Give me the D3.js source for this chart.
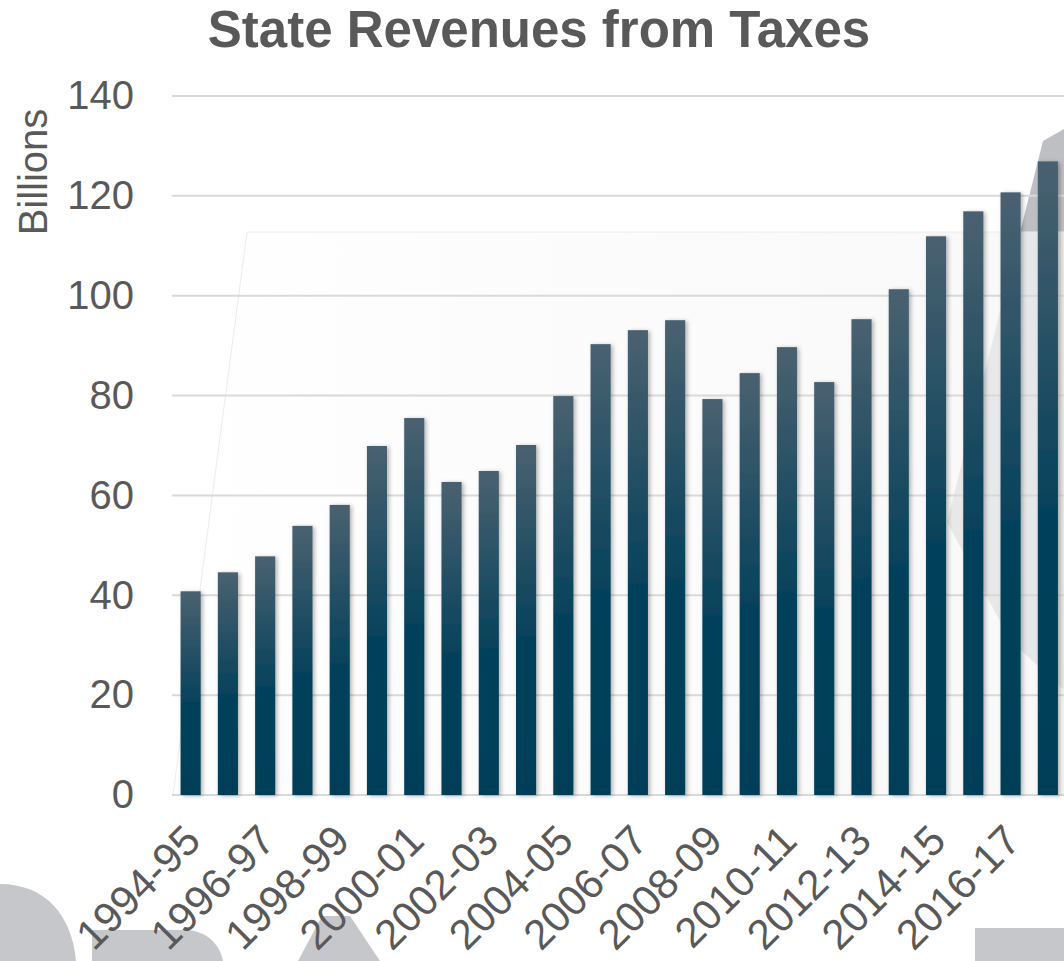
<!DOCTYPE html>
<html>
<head>
<meta charset="utf-8">
<script src="https://cdn.jsdelivr.net/npm/d3@7"></script>
<style>
  html, body { margin: 0; padding: 0; background: #ffffff; }
  svg { display: block; }
  text { font-family: "Liberation Sans", Arial, sans-serif; }
</style>
</head>
<body>
<svg id="chart" width="1064" height="961"></svg>
<script>
// Fiscal years (x categories)
const years = [
  "1994-95", "1995-96", "1996-97", "1997-98", "1998-99", "1999-00",
  "2000-01", "2001-02", "2002-03", "2003-04", "2004-05", "2005-06",
  "2006-07", "2007-08", "2008-09", "2009-10", "2010-11", "2011-12",
  "2012-13", "2013-14", "2014-15", "2015-16", "2016-17", "2017-18"
];
// Tax revenues, billions of dollars
const revenues = [
  40.8, 44.6, 47.8, 53.9, 58.1, 69.9,
  75.5, 62.7, 64.9, 70.1, 79.9, 90.3,
  93.1, 95.1, 79.3, 84.5, 89.7, 82.7,
  95.3, 101.3, 111.9, 116.9, 120.7, 126.9
];
// Value axis ticks
const yTicks = [0, 20, 40, 60, 80, 100, 120, 140];
// Category labels shown on the axis (every other year)
const xTickLabels = years.filter((d, i) => i % 2 === 0);

const W = 1064, H = 961;
const svg = d3.select("#chart");
const defs = svg.append("defs");

const x = d3.scaleBand()
  .domain(years)
  .range([172, 1066.5])
  .paddingInner(0.46)
  .paddingOuter(0.23);

const y = d3.scaleLinear()
  .domain([0, 140])
  .range([795, 96]);

// Bar fill: slate grey at the top fading into deep teal
const grad = defs.append("linearGradient")
  .attr("id", "barFill")
  .attr("x1", 0).attr("y1", 0).attr("x2", 0).attr("y2", 1);
grad.append("stop").attr("offset", "0%").attr("stop-color", "#4a6170");
grad.append("stop").attr("offset", "58%").attr("stop-color", "#02405a");
grad.append("stop").attr("offset", "100%").attr("stop-color", "#003e57");

// Soft shadow behind bars
const shadow = defs.append("filter").attr("id", "barShadow")
  .attr("x", "-50%").attr("y", "-10%").attr("width", "200%").attr("height", "120%");
shadow.append("feDropShadow")
  .attr("dx", 2).attr("dy", 1).attr("stdDeviation", 2)
  .attr("flood-color", "#000").attr("flood-opacity", 0.3);

// Background artwork: large grey letterforms cropped by the bottom edge
const backdrop = svg.append("g").attr("fill", "#c6c7ca");
backdrop.append("path").attr("d", "M0,884 C45,884 72,915 76,961 L0,961 Z");
backdrop.append("path").attr("d", "M92,930 L188,930 C208,932 220,945 223,961 L92,961 Z");
backdrop.append("path").attr("d", "M298,961 L322,916 L350,916 L380,961 Z");
backdrop.append("path").attr("d", "M975,928 L1064,928 L1064,961 L975,961 Z");

// Grey swoosh on the right, partly veiled by the backdrop panel
backdrop.append("path")
  .attr("d", "M1043,141 L1064,129 L1064,690 L1010,640 L947,522 Z")
  .attr("fill", "#bdbfc3");

// Faint backdrop panel (semi-opaque white)
const panelGrad = defs.append("linearGradient")
  .attr("id", "panelFill").attr("x1", 0).attr("y1", 0).attr("x2", 1).attr("y2", 0);
panelGrad.append("stop").attr("offset", "0%").attr("stop-color", "#ffffff").attr("stop-opacity", 0.9);
panelGrad.append("stop").attr("offset", "100%").attr("stop-color", "#f6f6f6").attr("stop-opacity", 0.72);

svg.append("path")
  .attr("d", "M247,232 L1064,232 L1064,795 L173,795 Z")
  .attr("fill", "url(#panelFill)")
  .attr("stroke", "#ececec")
  .attr("stroke-width", 1);

// Horizontal gridlines
svg.append("g")
  .selectAll("line")
  .data(yTicks)
  .join("line")
  .attr("x1", 172)
  .attr("x2", W)
  .attr("y1", d => y(d))
  .attr("y2", d => y(d))
  .attr("stroke", "#d9d9d9")
  .attr("stroke-width", 2);

// Bars
svg.append("g")
  .selectAll("rect")
  .data(years.map((d, i) => ({ year: d, value: revenues[i] })))
  .join("rect")
  .attr("x", d => x(d.year))
  .attr("y", d => y(d.value))
  .attr("width", x.bandwidth())
  .attr("height", d => y(0) - y(d.value))
  .attr("fill", "url(#barFill)")
  .attr("filter", "url(#barShadow)");

// Y axis labels
const yAxis = d3.axisLeft(y)
  .tickValues(yTicks)
  .tickSize(0)
  .tickPadding(38)
  .tickFormat(d3.format("d"));
const gy = svg.append("g")
  .attr("transform", "translate(172,0)")
  .call(yAxis);
gy.select(".domain").remove();
gy.selectAll("text")
  .attr("font-size", 40)
  .attr("font-family", "'Liberation Sans', Arial, sans-serif")
  .attr("fill", "#595959");

// X axis labels, rotated
svg.append("g")
  .selectAll("text")
  .data(xTickLabels)
  .join("text")
  .attr("transform", d => `translate(${x(d) + x.bandwidth() / 2 - 9},822) rotate(-45)`)
  .attr("dy", "0.71em")
  .attr("text-anchor", "end")
  .attr("font-size", 42)
  .attr("fill", "#595959")
  .text(d => d);

// Axis title
svg.append("text")
  .attr("transform", "translate(47,172) rotate(-90)")
  .attr("text-anchor", "middle")
  .attr("font-size", 40)
  .attr("fill", "#595959")
  .text("Billions");

// Chart title
svg.append("text")
  .attr("x", 539)
  .attr("y", 47)
  .attr("text-anchor", "middle")
  .attr("font-size", 51)
  .attr("font-weight", "bold")
  .attr("fill", "#595959")
  .text("State Revenues from Taxes");
</script>
</body>
</html>
